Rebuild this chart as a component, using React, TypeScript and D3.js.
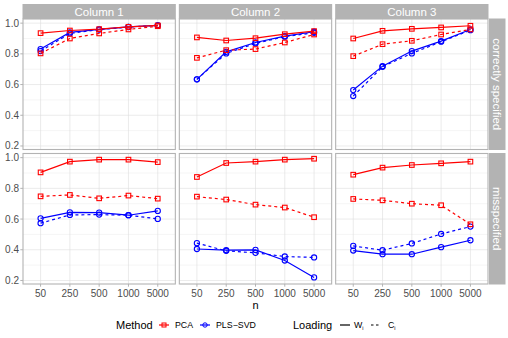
import React from "react";
import * as d3 from "d3";

// categories
const sampleSizes = ["50", "250", "500", "1000", "5000"];
const columnLabels = ["Column 1", "Column 2", "Column 3"];
const rowLabels = ["correctly specified", "misspecified"];
const yTicks = [0.2, 0.4, 0.6, 0.8, 1.0];

// correctly specified, one array per column
const pcaWCorrect = [
  [0.935, 0.952, 0.961, 0.976, 0.985],
  [0.907, 0.887, 0.902, 0.928, 0.948],
  [0.9, 0.95, 0.963, 0.972, 0.983],
];
const pcaCCorrect = [
  [0.803, 0.9, 0.933, 0.959, 0.98],
  [0.774, 0.824, 0.831, 0.874, 0.926],
  [0.785, 0.863, 0.885, 0.926, 0.959],
];
const plsWCorrect = [
  [0.831, 0.94, 0.96, 0.976, 0.986],
  [0.634, 0.813, 0.874, 0.915, 0.944],
  [0.564, 0.72, 0.818, 0.883, 0.959],
];
const plsCCorrect = [
  [0.818, 0.933, 0.958, 0.975, 0.985],
  [0.634, 0.803, 0.868, 0.912, 0.937],
  [0.525, 0.716, 0.803, 0.879, 0.954],
];

// misspecified
const pcaWMis = [
  [0.904, 0.974, 0.987, 0.987, 0.971],
  [0.874, 0.965, 0.974, 0.987, 0.993],
  [0.889, 0.935, 0.952, 0.963, 0.974],
];
const pcaCMis = [
  [0.748, 0.757, 0.735, 0.753, 0.733],
  [0.746, 0.727, 0.694, 0.675, 0.612],
  [0.731, 0.722, 0.7, 0.69, 0.566],
];
const plsWMis = [
  [0.605, 0.644, 0.642, 0.625, 0.653],
  [0.405, 0.397, 0.399, 0.33, 0.22],
  [0.395, 0.371, 0.371, 0.417, 0.462],
];
const plsCMis = [
  [0.573, 0.627, 0.629, 0.625, 0.601],
  [0.443, 0.393, 0.38, 0.356, 0.35],
  [0.425, 0.397, 0.441, 0.503, 0.551],
];

const RED = "#FF0000";
const BLUE = "#0000FF";
const FONT = "'Liberation Sans', Arial, sans-serif";

const seriesByRow = [
  [
    { vals: plsCCorrect, color: BLUE, dashed: true, shape: "circle" },
    { vals: plsWCorrect, color: BLUE, dashed: false, shape: "circle" },
    { vals: pcaCCorrect, color: RED, dashed: true, shape: "square" },
    { vals: pcaWCorrect, color: RED, dashed: false, shape: "square" },
  ],
  [
    { vals: plsCMis, color: BLUE, dashed: true, shape: "circle" },
    { vals: plsWMis, color: BLUE, dashed: false, shape: "circle" },
    { vals: pcaCMis, color: RED, dashed: true, shape: "square" },
    { vals: pcaWMis, color: RED, dashed: false, shape: "square" },
  ],
];

const W = 508;
const H = 338;
const left = 23;
const right = 488;
const top = 19;
const bottom = 284;
const gap = 4;
const pw = (right - left - 2 * gap) / 3;
const ph = (bottom - top - gap) / 2;

const Marker = ({ x, y, shape, color }) =>
  shape === "square" ? (
    <rect x={x - 2.3} y={y - 2.3} width={4.6} height={4.6} fill="none" stroke={color} strokeWidth={1.1} />
  ) : (
    <circle cx={x} cy={y} r={2.6} fill="none" stroke={color} strokeWidth={1.1} />
  );

export default function App() {
  const x = d3.scalePoint().domain(sampleSizes).range([0, pw]).padding(0.6);
  const y = d3.scaleLinear().domain([0.177, 1.027]).range([ph, 0]);
  const minor = [0.3, 0.5, 0.7, 0.9];

  const line = d3
    .line<number>()
    .x((d, i) => x(sampleSizes[i]))
    .y((d) => y(d));

  return (
    <svg
      width={W}
      height={H}
      style={{ position: "fixed", left: 0, top: 0, background: "#fff" }}
      fontFamily={FONT}
    >
      <rect width={W} height={H} fill="#fff" />
      {rowLabels.map((rl, r) => {
        const py = top + r * (ph + gap);
        return (
          <g key={rl}>
            {columnLabels.map((cl, c) => {
              const px = left + c * (pw + gap);
              return (
                <g key={cl} transform={`translate(${px},${py})`}>
                  {minor.map((m) => (
                    <line key={m} x1={0} x2={pw} y1={y(m)} y2={y(m)} stroke="#DEDEDE" strokeWidth={0.3} />
                  ))}
                  {yTicks.map((t) => (
                    <line key={t} x1={0} x2={pw} y1={y(t)} y2={y(t)} stroke="#DEDEDE" strokeWidth={0.6} />
                  ))}
                  {sampleSizes.map((s) => (
                    <line key={s} x1={x(s)} x2={x(s)} y1={0} y2={ph} stroke="#DEDEDE" strokeWidth={0.6} />
                  ))}
                  {seriesByRow[r].map((s, k) => (
                    <g key={k}>
                      <path
                        d={line(s.vals[c])}
                        fill="none"
                        stroke={s.color}
                        strokeWidth={1.2}
                        strokeDasharray={s.dashed ? "3,3" : undefined}
                      />
                      {s.vals[c].map((v, i) => (
                        <Marker key={i} x={x(sampleSizes[i])} y={y(v)} shape={s.shape} color={s.color} />
                      ))}
                    </g>
                  ))}
                  <rect x={0} y={0} width={pw} height={ph} fill="none" stroke="#B3B3B3" strokeWidth={1.1} />
                  {c === 0 &&
                    yTicks.map((t) => (
                      <g key={t}>
                        <line x1={-2.7} x2={0} y1={y(t)} y2={y(t)} stroke="#B3B3B3" strokeWidth={1} />
                        <text x={-4} y={y(t)} dy="0.35em" textAnchor="end" fontSize={10} fill="#4D4D4D">
                          {t.toFixed(1)}
                        </text>
                      </g>
                    ))}
                  {r === 1 &&
                    sampleSizes.map((s) => (
                      <g key={s}>
                        <line x1={x(s)} x2={x(s)} y1={ph} y2={ph + 2.7} stroke="#B3B3B3" strokeWidth={1} />
                        <text x={x(s)} y={ph + 9} dy="0.35em" textAnchor="middle" fontSize={10} fill="#4D4D4D">
                          {s}
                        </text>
                      </g>
                    ))}
                  {r === 0 && (
                    <g>
                      <rect x={-0.5} y={-15} width={pw + 1} height={15} fill="#B3B3B3" />
                      <text x={pw / 2} y={-7.5} dy="0.35em" textAnchor="middle" fontSize={11.5} fill="#fff">
                        {cl}
                      </text>
                    </g>
                  )}
                </g>
              );
            })}
            <rect x={right + 1} y={py - 0.5} width={16.5} height={ph + 1} fill="#B3B3B3" />
            <text
              transform={`translate(${right + 9.25},${py + ph / 2}) rotate(90)`}
              dy="0.35em"
              textAnchor="middle"
              fontSize={11.5}
              fill="#fff"
            >
              {rl}
            </text>
          </g>
        );
      })}

      <text x={(left + right) / 2} y={305.5} dy="0.35em" textAnchor="middle" fontSize={11} fill="#000">
        n
      </text>

      {/* legend */}
      <g transform="translate(0,325)">
        <text x={116} y={0} dy="0.35em" fontSize={11} fill="#000">Method</text>
        <line x1={159} x2={169} y1={0} y2={0} stroke={RED} strokeWidth={1.2} />
        <rect x={162} y={-2} width={4} height={4} fill="none" stroke={RED} strokeWidth={1} />
        <text x={175} y={0} dy="0.35em" fontSize={8.8} fill="#000">PCA</text>
        <line x1={200} x2={210} y1={0} y2={0} stroke={BLUE} strokeWidth={1.2} />
        <circle cx={205} cy={0} r={2.2} fill="none" stroke={BLUE} strokeWidth={1} />
        <text x={216} y={0} dy="0.35em" fontSize={8.8} fill="#000">PLS−SVD</text>

        <text x={293} y={0} dy="0.35em" fontSize={11} fill="#000">Loading</text>
        <line x1={340} x2={350} y1={0} y2={0} stroke="#000" strokeWidth={1.2} />
        <text x={354} y={0} dy="0.35em" fontSize={8.8} fill="#000">
          W<tspan fontSize={5.5} dy="2">i</tspan>
        </text>
        <line x1={371} x2={381} y1={0} y2={0} stroke="#000" strokeWidth={1.2} strokeDasharray="2.5,2.5" />
        <text x={388} y={0} dy="0.35em" fontSize={8.8} fill="#000">
          C<tspan fontSize={5.5} dy="2">i</tspan>
        </text>
      </g>
    </svg>
  );
}
